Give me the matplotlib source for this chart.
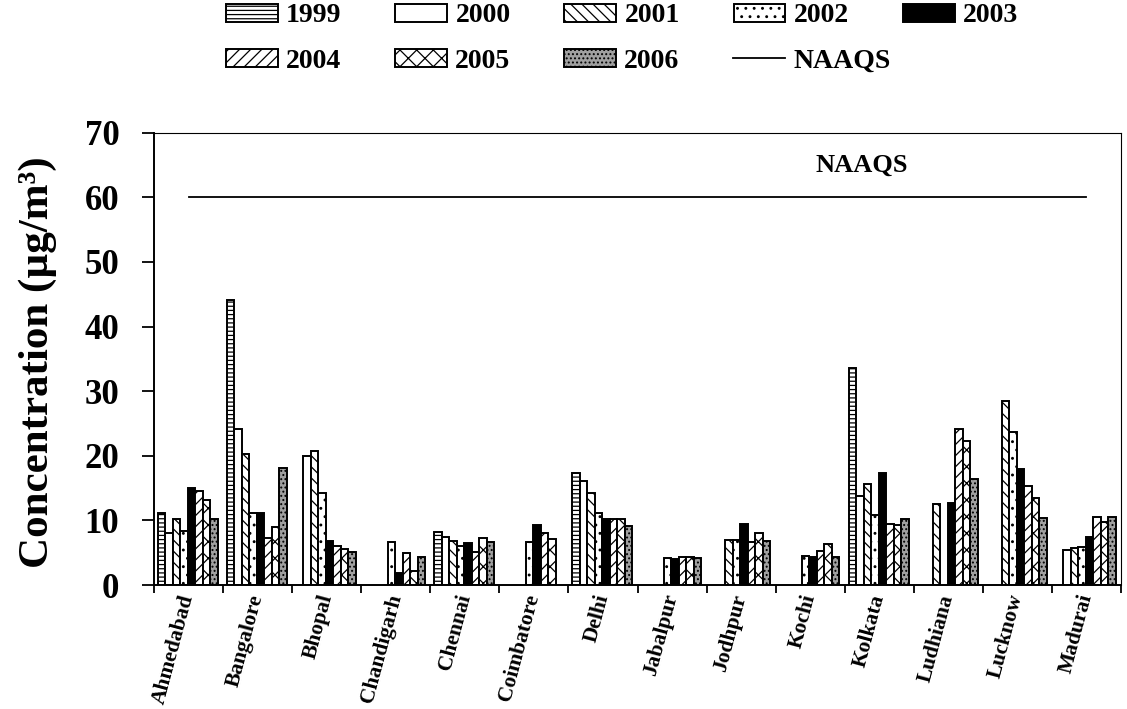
import numpy as np
import matplotlib
matplotlib.use("Agg")
import matplotlib.pyplot as plt
from matplotlib.patches import Patch
from matplotlib.lines import Line2D

cities = ["Ahmedabad", "Bangalore", "Bhopal", "Chandigarh", "Chennai", "Coimbatore",
          "Delhi", "Jabalpur", "Jodhpur", "Kochi", "Kolkata", "Ludhiana", "Lucknow", "Madurai"]
years = ["1999", "2000", "2001", "2002", "2003", "2004", "2005", "2006"]

v1999 = [11.1, 44.1, None, None, 8.2, None, 17.3, None, None, None, 33.6, None, None, None]
v2000 = [8.1, 24.1, 19.9, None, 7.4, None, 16.1, None, None, None, 13.8, None, None, 5.4]
v2001 = [10.2, 20.2, 20.8, None, 6.8, None, 14.3, None, 7.0, None, 15.7, 12.5, 28.5, 5.8]
v2002 = [8.4, 11.1, 14.2, 6.7, 6.0, 6.7, 11.2, 4.2, 7.0, 4.5, 10.8, None, 23.7, 5.9]
v2003 = [15.0, 11.1, 6.8, 1.9, 6.5, 9.3, 10.2, 4.0, 9.4, 4.4, 17.3, 12.7, 17.9, 7.4]
v2004 = [14.5, 7.3, 6.1, 5.0, 5.1, 8.1, 10.2, 4.3, 6.7, 5.3, 9.4, 24.1, 15.3, 10.5]
v2005 = [13.1, 9.0, 5.5, 2.1, 7.2, 7.1, 10.2, 4.3, 8.1, 6.3, 9.3, 22.3, 13.4, 9.8]
v2006 = [10.2, 18.1, 5.1, 4.3, 6.7, None, 9.2, 4.2, 6.8, 4.4, 10.2, 16.4, 10.4, 10.5]
series = [v1999, v2000, v2001, v2002, v2003, v2004, v2005, v2006]

naaqs = 60
yticks = [0, 10, 20, 30, 40, 50, 60, 70]

plt.rcParams["font.family"] = ["Liberation Serif", "DejaVu Serif"]
plt.rcParams["font.weight"] = "bold"
plt.rcParams["hatch.linewidth"] = 0.9

styles = [
    dict(facecolor="white", hatch="----"),
    dict(facecolor="white", hatch=""),
    dict(facecolor="white", hatch="\\\\\\"),
    dict(facecolor="white", hatch=".."),
    dict(facecolor="black", hatch=""),
    dict(facecolor="white", hatch="///"),
    dict(facecolor="white", hatch="xx"),
    dict(facecolor="#a0a0a0", hatch="...."),
]

fig = plt.figure(figsize=(11.27, 7.09), dpi=100)
ax = fig.add_axes([154 / 1127, 1 - 585 / 709, (1121 - 154) / 1127, (585 - 132.7) / 709])

n = len(years)
bw = 0.1086
x = np.arange(len(cities))
for i, (vals, st) in enumerate(zip(series, styles)):
    off = (i - (n - 1) / 2) * bw - 0.01
    xs = [xx + off for xx, v in zip(x, vals) if v is not None]
    hs = [v for v in vals if v is not None]
    ax.bar(xs, hs, width=bw, edgecolor="black", linewidth=1.4, **st, zorder=2)

ax.plot([0, 13], [naaqs, naaqs], color="black", lw=1.3, zorder=3)
ax.text(9.75, 65, "NAAQS", ha="center", va="center", fontsize=19, fontweight="bold")

ax.set_xlim(-0.5, len(cities) - 0.5)
ax.set_ylim(0, 70)
ax.set_yticks(yticks)
ax.tick_params(axis="y", direction="out", length=9, width=1.3, pad=16, labelsize=25)
ax.set_xticks(x)
ax.set_xticklabels(cities, rotation=75, ha="right", va="center", rotation_mode="anchor",
                   fontsize=15.5, fontweight="bold")
ax.tick_params(axis="x", which="major", length=0, pad=7)
ax.set_xticks(np.arange(-0.5, len(cities) + 0.5, 1), minor=True)
ax.tick_params(axis="x", which="minor", direction="out", length=6, width=1.3)
for lab in ax.get_yticklabels():
    lab.set_fontweight("bold")

for s in ["left", "bottom"]:
    ax.spines[s].set_linewidth(1.4)
for s in ["top", "right"]:
    ax.spines[s].set_linewidth(0.8)

fig.text(38 / 1127, 1 - 362 / 709, "Concentration (µg/m³)", rotation=90,
         ha="center", va="center", fontsize=31, fontweight="bold")

handles = [Patch(edgecolor="black", linewidth=1.4, **st) for st in styles]
leg_kw = dict(frameon=False, handlelength=1.87, handleheight=0.6,
              handletextpad=0.29, columnspacing=1.94, borderpad=0, borderaxespad=0,
              loc="center left", prop=dict(weight="bold", size=20))
fig.legend(handles[:5], years[:5], ncol=5,
           bbox_to_anchor=(226 / 1127, 1 - 16 / 709), **leg_kw)
fig.legend(handles[5:] + [Line2D([], [], color="black", lw=1.3)], years[5:] + ["NAAQS"], ncol=4,
           bbox_to_anchor=(226 / 1127, 1 - 61 / 709), **leg_kw)

fig.savefig("out.png", dpi=100)
